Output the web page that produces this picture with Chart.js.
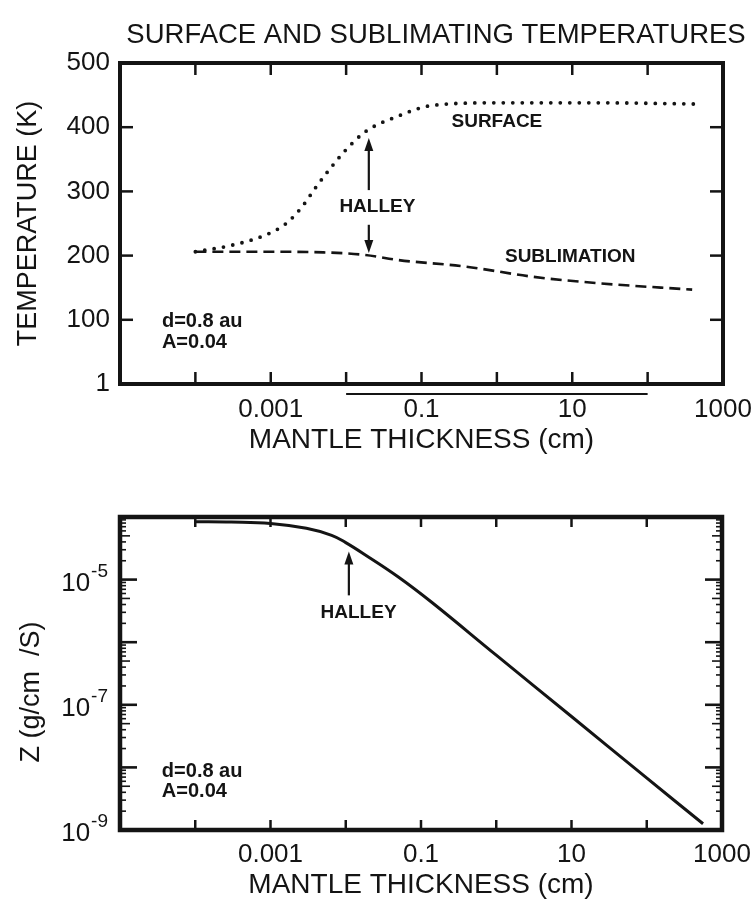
<!DOCTYPE html>
<html>
<head>
<meta charset="utf-8">
<script src="https://cdn.jsdelivr.net/npm/chart.js@4.4.1/dist/chart.umd.min.js"></script>
<style>
html,body{margin:0;padding:0;background:#fff;}
#wrap{position:relative;width:753px;height:905px;background:#fff;}
canvas{position:absolute;left:0;}
#c1{top:0;}
#c2{top:470px;}
</style>
</head>
<body>
<div id="wrap">
<canvas id="c1" width="753" height="470"></canvas>
<canvas id="c2" width="753" height="435"></canvas>
</div>
<script>
// ---------------- DATA ----------------
// Top panel: surface temperature (dotted)
const surfaceThickness = [0.0001, 0.0003, 0.00085, 0.0016, 0.0026, 0.004, 0.0059, 0.0098, 0.018, 0.046, 0.14, 1.1, 22, 480];
const surfaceTemp      = [206, 216, 232, 250, 276, 307, 333, 364, 393, 416, 434, 438, 438, 436];
// Top panel: sublimation temperature (dashed)
const sublimationThickness = [0.0001, 0.00085, 0.005, 0.018, 0.05, 0.38, 3, 22, 390];
const sublimationTemp      = [206, 206, 205, 201, 193, 183, 167, 157, 147];
// Bottom panel: Z (g/cm^2/s)
const zThickness = [0.0001, 0.0003, 0.001, 0.003, 0.0065, 0.01, 0.018, 0.05, 0.14, 1, 10, 95, 560];
const zValues    = [8.4e-5, 8.3e-5, 7.9e-5, 6.6e-5, 5.1e-5, 3.9e-5, 2.5e-5, 1.1e-5, 4.3e-6, 6.2e-7, 6.5e-8, 7.1e-9, 1.26e-9];

// Axis ticks and labels
const xTickValues  = [1e-5, 1e-4, 1e-3, 1e-2, 1e-1, 1, 10, 100, 1000];
const xLabelValues = [0.001, 0.1, 10, 1000];
const xLabelTexts  = ['0.001', '0.1', '10', '1000'];
const tempTickValues = [0, 100, 200, 300, 400, 500];
const tempTickLabels = ['1', '100', '200', '300', '400', '500'];
const zDecadeExps  = [-9, -8, -7, -6, -5, -4];
const zLabelExps   = [-9, -7, -5];

// ---------------- STYLE ----------------
const FONT = "'Liberation Sans', Arial, sans-serif";
const INK = '#141414';

function seg(ctx, x1, y1, x2, y2) {
  ctx.beginPath(); ctx.moveTo(x1, y1); ctx.lineTo(x2, y2); ctx.stroke();
}
function head(ctx, x, y, dir) { // dir -1: pointing up, +1: pointing down
  ctx.beginPath();
  ctx.moveTo(x, y);
  ctx.lineTo(x - 4.5, y - dir * 13);
  ctx.lineTo(x + 4.5, y - dir * 13);
  ctx.closePath(); ctx.fill();
}

const decorPlugin = {
  id: 'decor',
  afterDraw(chart, args, o) {
    const ctx = chart.ctx;
    const {left, right, top, bottom} = chart.chartArea;
    const xs = chart.scales.x, ys = chart.scales.y;
    ctx.save();
    ctx.strokeStyle = INK; ctx.fillStyle = INK;
    // x ticks (inward, top and bottom)
    ctx.lineWidth = o.tickWidth;
    xTickValues.forEach(v => {
      if (v <= xs.min || v >= xs.max) return;
      const px = xs.getPixelForValue(v);
      seg(ctx, px, bottom, px, bottom - o.xTickLen);
      seg(ctx, px, top, px, top + o.xTickLen);
    });
    // y ticks (inward, left and right)
    o.yTicks.forEach(t => {
      const py = ys.getPixelForValue(t.v);
      ctx.lineWidth = t.w || o.tickWidth;
      seg(ctx, left, py, left + t.len, py);
      seg(ctx, right, py, right - t.len, py);
    });
    // frame
    ctx.lineWidth = o.frameWidth;
    ctx.lineJoin = 'miter';
    ctx.strokeRect(left, top, right - left, bottom - top);

    // extra rule under the x axis
    if (o.underline) {
      ctx.lineWidth = 2;
      const u = o.underline;
      seg(ctx, xs.getPixelForValue(u.from), bottom + u.dy, xs.getPixelForValue(u.to), bottom + u.dy);
    }
    // title
    if (o.title) {
      ctx.font = o.title.font;
      ctx.textAlign = 'center'; ctx.textBaseline = 'middle';
      ctx.fillText(o.title.text, o.title.x, o.title.y);
    }
    // arrows
    ctx.lineWidth = 2.2;
    (o.arrows || []).forEach(a => {
      const px = xs.getPixelForValue(a.x);
      const y1 = ys.getPixelForValue(a.from), y2 = ys.getPixelForValue(a.to);
      const dir = y2 < y1 ? -1 : 1;
      seg(ctx, px, y1, px, y2 - dir * 10);
      head(ctx, px, y2, dir);
    });
    // annotation texts
    (o.texts || []).forEach(t => {
      ctx.font = t.font;
      ctx.textAlign = t.align || 'center';
      ctx.textBaseline = 'middle';
      ctx.fillText(t.text, xs.getPixelForValue(t.x), ys.getPixelForValue(t.y));
    });
    // power-of-ten y labels
    if (o.powLabels) {
      o.powLabels.forEach(e => {
        const py = ys.getPixelForValue(Math.pow(10, e));
        const sup = '-' + Math.abs(e);
        ctx.font = "19px " + FONT;
        const sw = ctx.measureText(sup).width;
        ctx.textAlign = 'left'; ctx.textBaseline = 'middle';
        const xEnd = 108;
        ctx.fillText(sup, xEnd - sw, py - 8);
        ctx.font = "26px " + FONT;
        ctx.textAlign = 'right';
        ctx.fillText('10', xEnd - sw - 1, py + 4);
      });
    }
    // rotated custom y title
    if (o.yTitle) {
      ctx.save();
      ctx.translate(o.yTitle.x, o.yTitle.y);
      ctx.rotate(-Math.PI / 2);
      ctx.font = o.yTitle.font;
      ctx.textAlign = 'center'; ctx.textBaseline = 'middle';
      ctx.fillText(o.yTitle.text, 0, 0);
      ctx.restore();
    }
    ctx.restore();
  }
};

function xScale(heightPx, labelPad, titlePadBottom) {
  return {
    type: 'logarithmic', min: 1e-5, max: 1e3, position: 'bottom',
    grid: {display: false, drawTicks: false}, border: {display: false},
    afterBuildTicks: s => { s.ticks = xTickValues.map(v => ({value: v})); },
    ticks: {
      autoSkip: false, maxRotation: 0, minRotation: 0, padding: labelPad, color: INK,
      font: {family: FONT, size: 26},
      callback: v => { const i = xLabelValues.indexOf(v); return i >= 0 ? xLabelTexts[i] : ''; }
    },
    title: {display: true, text: 'MANTLE THICKNESS (cm)', color: INK,
            font: {family: FONT, size: 28}, padding: {top: 0, bottom: titlePadBottom}},
    afterFit: s => { s.height = heightPx; s.paddingLeft = 0; s.paddingRight = 0; }
  };
}

const common = {
  responsive: false, animation: false, devicePixelRatio: 1,
  events: [],
  elements: {point: {radius: 0}},
};

// ---------------- TOP CHART ----------------
new Chart(document.getElementById('c1'), {
  type: 'line',
  data: {
    datasets: [
      {
        label: 'SURFACE',
        data: surfaceThickness.map((x, i) => ({x, y: surfaceTemp[i]})),
        borderColor: INK, borderWidth: 3.8, borderDash: [0, 9.5], borderCapStyle: 'round',
        pointRadius: 0, fill: false, cubicInterpolationMode: 'monotone'
      },
      {
        label: 'SUBLIMATION',
        data: sublimationThickness.map((x, i) => ({x, y: sublimationTemp[i]})),
        borderColor: INK, borderWidth: 2.6, borderDash: [11, 6],
        pointRadius: 0, fill: false, cubicInterpolationMode: 'monotone'
      }
    ]
  },
  options: Object.assign({}, common, {
    layout: {padding: {top: 63, right: 30, left: 0, bottom: 0}},
    plugins: {
      legend: {display: false}, tooltip: {enabled: false}, title: {display: false},
      decor: {
        tickWidth: 2.5, frameWidth: 4, xTickLen: 12,
        yTicks: tempTickValues.filter(v => v > 0 && v < 500).map(v => ({v, len: 13})),
        underline: {from: 0.01, to: 100, dy: 10},
        title: {text: 'SURFACE AND SUBLIMATING TEMPERATURES', x: 436, y: 35, font: '27.5px ' + FONT},
        arrows: [{x: 0.02, from: 302, to: 383}, {x: 0.02, from: 248, to: 204}],
        texts: [
          {text: 'SURFACE', x: 1.0, y: 408, font: 'bold 19px ' + FONT},
          {text: 'SUBLIMATION', x: 9.4, y: 198, font: 'bold 19px ' + FONT},
          {text: 'HALLEY', x: 0.026, y: 276, font: 'bold 19px ' + FONT},
          {text: 'd=0.8 au', x: 3.6e-5, y: 97, align: 'left', font: 'bold 20px ' + FONT},
          {text: 'A=0.04', x: 3.6e-5, y: 64, align: 'left', font: 'bold 20px ' + FONT}
        ]
      }
    },
    scales: {
      x: xScale(86, 10, 13),
      y: {
        type: 'linear', min: 0, max: 500, position: 'left',
        grid: {display: false, drawTicks: false}, border: {display: false},
        afterBuildTicks: s => { s.ticks = tempTickValues.map(v => ({value: v})); },
        ticks: {
          padding: 10, color: INK, font: {family: FONT, size: 26},
          callback: v => { const i = tempTickValues.indexOf(v); return i >= 0 ? tempTickLabels[i] : ''; }
        },
        title: {display: true, text: 'TEMPERATURE (K)', color: INK,
                font: {family: FONT, size: 27}, padding: {top: 12, bottom: 0}},
        afterFit: s => { s.width = 120; s.paddingTop = 0; s.paddingBottom = 0; }
      }
    }
  }),
  plugins: [decorPlugin]
});

// ---------------- BOTTOM CHART ----------------
const zYTicks = [];
zDecadeExps.forEach(e => {
  if (e > -9 && e < -4) zYTicks.push({v: Math.pow(10, e), len: 17, w: 2.6});
  if (e < -4) for (let m = 2; m <= 9; m++) zYTicks.push({v: m * Math.pow(10, e), len: m === 5 ? 10 : 6, w: 1.6});
});

new Chart(document.getElementById('c2'), {
  type: 'line',
  data: {
    datasets: [{
      label: 'Z',
      data: zThickness.map((x, i) => ({x, y: zValues[i]})),
      borderColor: INK, borderWidth: 3, pointRadius: 0, fill: false,
      tension: 0.4, borderJoinStyle: 'round'
    }]
  },
  options: Object.assign({}, common, {
    layout: {padding: {top: 47, right: 31, left: 0, bottom: 0}},
    plugins: {
      legend: {display: false}, tooltip: {enabled: false}, title: {display: false},
      decor: {
        tickWidth: 2.5, frameWidth: 4.5, xTickLen: 10,
        yTicks: zYTicks,
        powLabels: zLabelExps,
        yTitle: {text: 'Z (g/cm  /S)', x: 32, y: 222, font: '27px ' + FONT},
        arrows: [{x: 0.011, from: 5.6e-6, to: 2.8e-5}],
        texts: [
          {text: 'HALLEY', x: 0.0148, y: 3.0e-6, font: 'bold 19px ' + FONT},
          {text: 'd=0.8 au', x: 3.6e-5, y: 8.7e-9, align: 'left', font: 'bold 20px ' + FONT},
          {text: 'A=0.04', x: 3.6e-5, y: 4.1e-9, align: 'left', font: 'bold 20px ' + FONT}
        ]
      }
    },
    scales: {
      x: xScale(75, 9, 3),
      y: {
        type: 'logarithmic', min: 1e-9, max: 1e-4, position: 'left',
        grid: {display: false, drawTicks: false}, border: {display: false},
        afterBuildTicks: s => { s.ticks = zDecadeExps.map(e => ({value: Math.pow(10, e)})); },
        ticks: {display: false},
        title: {display: false},
        afterFit: s => { s.width = 120; s.paddingTop = 0; s.paddingBottom = 0; }
      }
    }
  }),
  plugins: [decorPlugin]
});
</script>
</body>
</html>
